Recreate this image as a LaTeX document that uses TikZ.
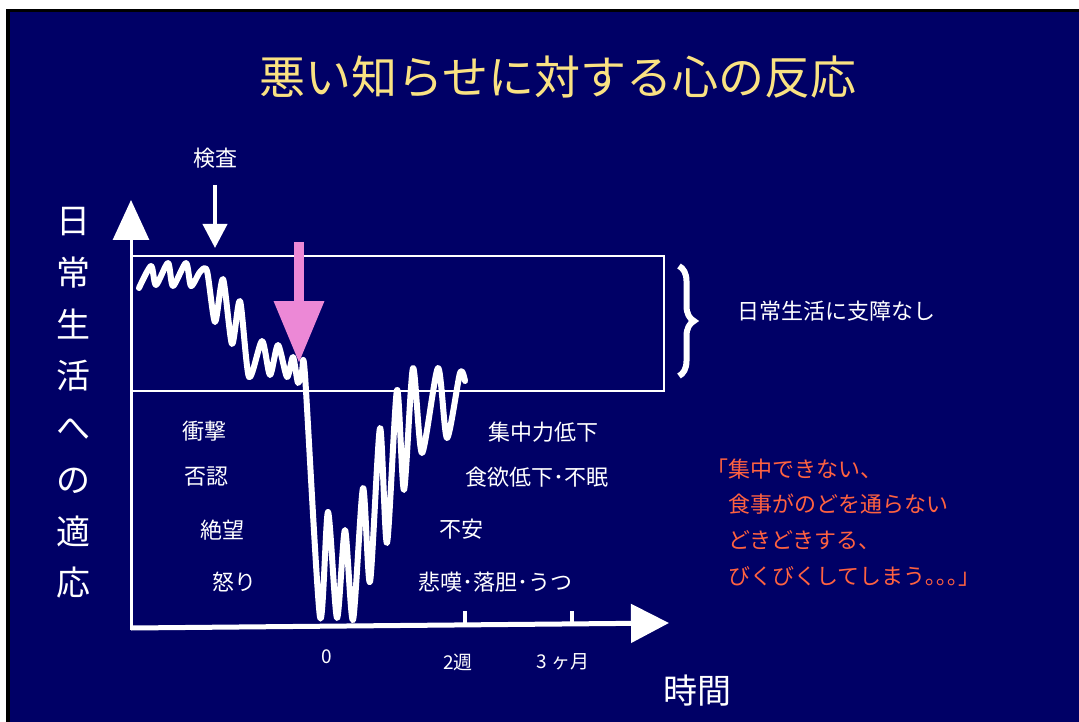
\documentclass[tikz,border=0pt]{standalone}
\usepackage{fontspec}
\setmainfont{Noto Sans CJK JP}
\usetikzlibrary{arrows.meta,decorations.pathreplacing}
\definecolor{navy}{RGB}{0,0,102}
\definecolor{titleyellow}{RGB}{250,226,130}
\definecolor{quotered}{RGB}{255,98,64}
\definecolor{pinkarrow}{RGB}{236,136,214}
\begin{document}
\begin{tikzpicture}[x=1pt,y=-1pt,
  every node/.style={inner sep=0pt,text=white},
  lbl/.style={font=\fontsize{22}{24}\selectfont},
  small/.style={font=\fontsize{19}{21}\selectfont},
  quote/.style={font=\fontsize{22}{24}\selectfont,text=quotered,anchor=west},
  axisline/.style={draw=white},
  curve/.style={draw=white,line width=6pt,line join=round,line cap=round}]
\useasboundingbox (0,0) rectangle (1079,722);
\fill[white] (0,0) rectangle (1079,722);
\fill[black] (6,9) rectangle (1079,722);
\fill[navy] (10,12) rectangle (1079,722);

% title
\node[font=\fontsize{46}{50}\selectfont,text=titleyellow] (title) at (558,77) {悪い知らせに対する心の反応};

% frame box
\coordinate (boxtl) at (131,256);
\coordinate (boxbr) at (664,391);
\draw[white,line width=2pt] (boxtl) rectangle (boxbr);

% axes
\coordinate (origin) at (131,630);
\coordinate (ytop) at (131,200);
\coordinate (xstart) at (131,628);
\coordinate (xend) at (669,623);
\draw[axisline,line width=3pt,-{Triangle[width=36pt,length=40pt]}] (origin) -- (ytop);
\draw[axisline,line width=5pt,-{Triangle[width=38pt,length=38pt]}] (xstart) -- (xend);
\coordinate (t1a) at (465,626); \coordinate (t1b) at (465,611);
\coordinate (t2a) at (572,625); \coordinate (t2b) at (572,611);
\draw[white,line width=4pt] (t1a) -- (t1b);
\draw[white,line width=4pt] (t2a) -- (t2b);

% axis labels
\node[small] (l0) at (327,657) {0};
\node[small] (l2w) at (458,662) {2週};
\node[small] (l3m) at (563,662) {3 ヶ月};
\node[font=\fontsize{34}{36}\selectfont] (jikan) at (697,691) {時間};
\node[font=\fontsize{34}{51.7}\selectfont,align=center] (ylabel) at (73,403)
  {日\\常\\生\\活\\へ\\の\\適\\応};

% kensa arrow
\node[lbl] (kensa) at (215,158) {検査};
\coordinate (ka) at (215,185);
\coordinate (kb) at (215,248);
\draw[white,line width=4pt,-{Triangle[width=24pt,length=24pt]}] (ka) -- (kb);

% pink arrow
\coordinate (pa) at (299,242);
\coordinate (pb) at (299,363);
\draw[pinkarrow,line width=10pt,-{Triangle[width=48pt,length=62pt]}] (pa) -- (pb);

% wavy curve
\draw[curve] plot[smooth,tension=0.45] coordinates {
 (139,288) (151,266) (156,285) (168,263) (173,286) (186,263) (191,286)
 (200,272) (207,271) (215,322) (223,279) (232,344) (240,301) (249,377)
 (262,341) (270,375) (278,345) (287,377) (293,357) (298,383) (302,371)
 (305,375) (320,617) (328,512) (337,618) (345,530) (353,620) (363,488)
 (370,582) (380,428) (387,543) (397,390) (404,490) (413,368) (422,453)
 (438,368) (447,438) (460,373) (465,381)};

% brace
\coordinate (bra) at (679,266);
\coordinate (brb) at (679,376);
\draw[white,line width=6pt,decorate,decoration={brace,amplitude=15pt}] (bra) -- (brb);
\node[lbl] (nosupp) at (836,311) {日常生活に支障なし};

% stage labels
\node[lbl] (shogeki) at (204,431) {衝撃};
\node[lbl] (hinin) at (206,477) {否認};
\node[lbl] (zetsubo) at (222,530) {絶望};
\node[lbl] (ikari) at (234,582) {怒り};
\node[lbl] (shuchu) at (543,432) {集中力低下};
\node[lbl] (shokuyoku) at (537,477) {食欲低下･不眠};
\node[lbl] (fuan) at (461,529) {不安};
\node[lbl] (hitan) at (495,582) {悲嘆･落胆･うつ};

% quote
\node[quote] (q1) at (706,469) {「集中できない、};
\node[quote] (q2) at (706,504) {　食事がのどを通らない};
\node[quote] (q3) at (706,540) {　どきどきする、};
\node[quote] (q4) at (706,576) {　びくびくしてしまう｡｡｡」};
\end{tikzpicture}
\end{document}
